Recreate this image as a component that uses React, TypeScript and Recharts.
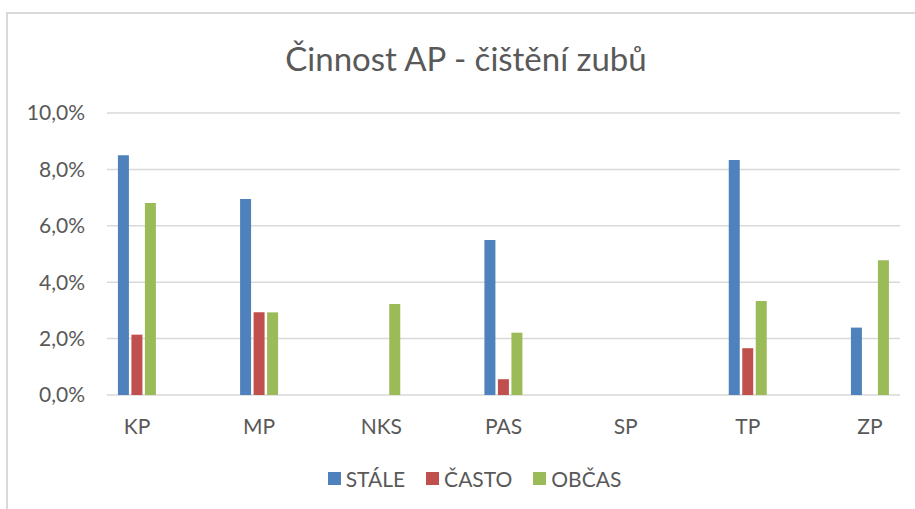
import { BarChart, Bar, XAxis, YAxis, CartesianGrid } from "recharts";

const categories = ["KP", "MP", "NKS", "PAS", "SP", "TP", "ZP"];
const stale = [8.5, 6.95, 0, 5.5, 0, 8.33, 2.39];
const casto = [2.14, 2.93, 0, 0.56, 0, 1.66, 0];
const obcas = [6.81, 2.93, 3.23, 2.21, 0, 3.33, 4.78];
const yTicks = [0, 2, 4, 6, 8, 10];

const series = [
  { key: "stale", name: "STÁLE", color: "#4F81BD" },
  { key: "casto", name: "ČASTO", color: "#C0504D" },
  { key: "obcas", name: "OBČAS", color: "#9BBB59" },
];

const data = categories.map((c, i) => ({
  cat: c,
  stale: stale[i],
  casto: casto[i],
  obcas: obcas[i],
}));

const FONT = "Lato, 'Noto Sans', sans-serif";
const TEXT = "#595959";

export default function App() {
  return (
    <div
      style={{
        position: "fixed",
        left: 0,
        top: 0,
        width: 915,
        height: 509,
        background: "#fff",
        overflow: "hidden",
      }}
    >
      <div
        style={{
          position: "absolute",
          left: 6,
          top: 12,
          width: 940,
          height: 520,
          border: "2px solid #d9d9d9",
          boxSizing: "border-box",
        }}
      />
      <BarChart
        width={915}
        height={509}
        data={data}
        margin={{ top: 113, right: 15, bottom: 84, left: 0 }}
        barSize={11}
        barGap={2.5}
        style={{ position: "absolute", left: 0, top: 0 }}
      >
        <text
          x={466}
          y={71}
          textAnchor="middle"
          fontFamily={FONT}
          fontSize={33}
          fill={TEXT}
        >
          Činnost AP - čištění zubů
        </text>
        <CartesianGrid vertical={false} stroke="#d9d9d9" strokeWidth={1.5} />
        <XAxis
          dataKey="cat"
          height={30}
          scale="point"
          padding={{ left: 30, right: 30 }}
          axisLine={false}
          tickLine={false}
          tickSize={0}
          tickMargin={24}
          tick={{ fill: TEXT, fontSize: 21, fontFamily: FONT }}
        />
        <YAxis
          width={107}
          domain={[0, 10]}
          ticks={yTicks}
          axisLine={false}
          tickLine={false}
          tickSize={0}
          tickMargin={22}
          tick={{ fill: TEXT, fontSize: 21, fontFamily: FONT }}
          tickFormatter={(v: number) => v.toFixed(1).replace(".", ",") + "%"}
        />
        {series.map((s) => (
          <Bar
            key={s.key}
            dataKey={s.key}
            name={s.name}
            fill={s.color}
            isAnimationActive={false}
          />
        ))}
      </BarChart>
      <div
        style={{
          position: "absolute",
          left: 17,
          top: 466,
          width: 915,
          display: "flex",
          justifyContent: "center",
          alignItems: "center",
          fontFamily: FONT,
          fontSize: 21,
          color: TEXT,
        }}
      >
        {series.map((s, i) => (
          <div
            key={s.key}
            style={{
              display: "flex",
              alignItems: "center",
              marginLeft: i === 0 ? 0 : 21,
            }}
          >
            <span
              style={{
                display: "inline-block",
                width: 13,
                height: 13,
                background: s.color,
                marginRight: 5,
              }}
            />
            <span>{s.name}</span>
          </div>
        ))}
      </div>
    </div>
  );
}
